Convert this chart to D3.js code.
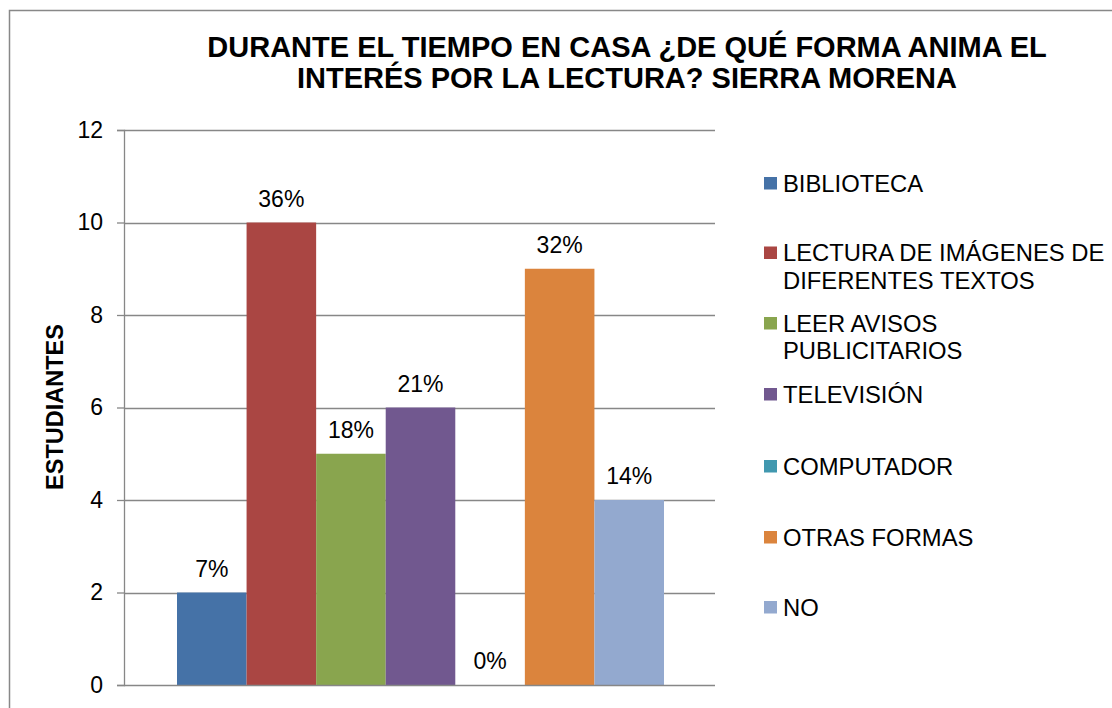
<!DOCTYPE html>
<html>
<head>
<meta charset="utf-8">
<script src="https://cdn.jsdelivr.net/npm/d3@7"></script>
<style>
  body { margin: 0; background: #fff; }
  svg text { font-family: "Liberation Sans", Arial, sans-serif; fill: #000; }
</style>
</head>
<body>
<div id="chart"></div>
<script>
// chart data
const series = ["BIBLIOTECA", "LECTURA DE IMÁGENES DE DIFERENTES TEXTOS", "LEER AVISOS PUBLICITARIOS",
  "TELEVISIÓN", "COMPUTADOR", "OTRAS FORMAS", "NO"];
const legendLines = [["BIBLIOTECA"], ["LECTURA DE IMÁGENES DE", "DIFERENTES TEXTOS"],
  ["LEER AVISOS", "PUBLICITARIOS"], ["TELEVISIÓN"], ["COMPUTADOR"], ["OTRAS FORMAS"], ["NO"]];
const values = [2, 10, 5, 6, 0, 9, 4];
const percentLabels = ["7%", "36%", "18%", "21%", "0%", "32%", "14%"];
const colors = ["#4572A7", "#AA4643", "#89A54E", "#71588F", "#4198AF", "#DB843D", "#93A9CF"];
const yTicks = [0, 2, 4, 6, 8, 10, 12];
const titleLines = ["DURANTE EL TIEMPO EN CASA ¿DE QUÉ FORMA ANIMA EL", "INTERÉS POR LA LECTURA? SIERRA MORENA"];

const width = 1112, height = 708;
const svg = d3.select('#chart').append('svg')
    .attr('width', width)
    .attr('height', height);

// outer frame
svg.append('rect')
    .attr('x', 9.5).attr('y', 10.5)
    .attr('width', 1110).attr('height', 710)
    .attr('fill', 'none')
    .attr('stroke', '#888')
    .attr('stroke-width', 1.5);

// title
svg.append('g').selectAll('text')
    .data(titleLines)
    .enter().append('text')
    .attr('x', 627)
    .attr('y', (d, i) => 57 + i * 31)
    .attr('text-anchor', 'middle')
    .attr('font-size', 29)
    .attr('font-weight', 'bold')
    .text(d => d);

const plot = { left: 124, right: 715, top: 130, bottom: 685 };

const y = d3.scaleLinear().domain([0, 12]).range([plot.bottom, plot.top]);
const x = d3.scaleBand().domain(series).range([177, 664]).padding(0);

// gridlines
svg.append('g').selectAll('line')
    .data(yTicks.filter(t => t > 0))
    .enter().append('line')
    .attr('x1', plot.left).attr('x2', plot.right)
    .attr('y1', d => Math.round(y(d)) + 0.5)
    .attr('y2', d => Math.round(y(d)) + 0.5)
    .attr('stroke', '#878787')
    .attr('stroke-width', 1.3);

// y axis
const yAxis = svg.append('g')
    .attr('transform', `translate(${plot.left},0)`)
    .call(d3.axisLeft(y).tickValues(yTicks).tickSize(7).tickPadding(14));
yAxis.select('.domain').attr('stroke', '#878787').attr('stroke-width', 1.3);
yAxis.selectAll('.tick line').attr('stroke', '#878787').attr('stroke-width', 1.3);
yAxis.selectAll('.tick text')
    .attr('font-size', 23)
    .attr('fill', '#000')
    .attr('font-family', '"Liberation Sans", Arial, sans-serif');

// bars
svg.append('g').selectAll('rect')
    .data(values)
    .enter().append('rect')
    .attr('x', (d, i) => x(series[i]))
    .attr('y', d => y(d))
    .attr('width', x.bandwidth())
    .attr('height', d => plot.bottom - y(d))
    .attr('fill', (d, i) => colors[i]);

// x baseline drawn over bars
svg.append('line')
    .attr('x1', plot.left).attr('x2', plot.right)
    .attr('y1', plot.bottom + 0.5).attr('y2', plot.bottom + 0.5)
    .attr('stroke', '#878787').attr('stroke-width', 1.3);

// data labels
svg.append('g').selectAll('text')
    .data(values)
    .enter().append('text')
    .attr('x', (d, i) => x(series[i]) + x.bandwidth() / 2)
    .attr('y', d => y(d) - 16)
    .attr('text-anchor', 'middle')
    .attr('font-size', 23)
    .text((d, i) => percentLabels[i]);

// y axis title
svg.append('text')
    .attr('transform', 'translate(63,407) rotate(-90)')
    .attr('text-anchor', 'middle')
    .attr('font-size', 23.5)
    .attr('font-weight', 'bold')
    .text('ESTUDIANTES');

// legend
const legendCenters = [183, 252.5, 323, 394, 466, 537, 607];
const legend = svg.append('g').selectAll('g')
    .data(legendLines)
    .enter().append('g')
    .attr('transform', (d, i) => `translate(764,${legendCenters[i]})`);

legend.append('rect')
    .attr('x', 0).attr('y', -6)
    .attr('width', 13).attr('height', 12.5)
    .attr('fill', (d, i) => colors[i]);

legend.selectAll('text')
    .data(d => d)
    .enter().append('text')
    .attr('x', 19)
    .attr('y', (d, i) => 8.5 + i * 27.5)
    .attr('font-size', 23.8)
    .text(d => d);
</script>
</body>
</html>
